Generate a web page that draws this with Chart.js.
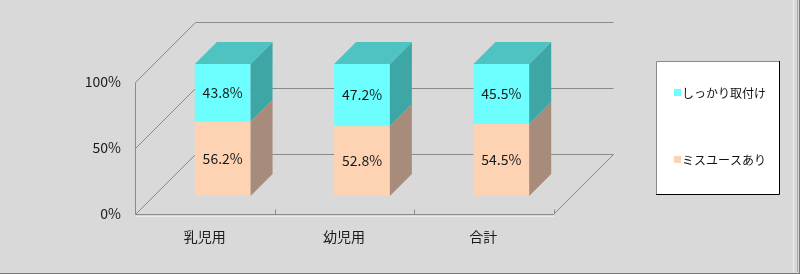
<!DOCTYPE html>
<html>
<head>
<meta charset="utf-8">
<script src="https://cdn.jsdelivr.net/npm/chart.js@4/dist/chart.umd.min.js"></script>
<style>
    html, body { margin: 0; padding: 0; background: #d9d9d9; }
    canvas { display: block; }
</style>
</head>
<body>
<canvas id="chart" width="800" height="274"></canvas>
<script>
(function () {
    'use strict';

    // ---- data ----
    var categories = ['乳児用', '幼児用', '合計'];
    var seriesNames = ['ミスユースあり', 'しっかり取付け'];
    var misuseValues = [56.2, 52.8, 54.5];
    var secureValues = [43.8, 47.2, 45.5];
    var yTickValues = [0, 50, 100];

    // ---- styles ----
    var FRONT = ['#fdd3b3', '#6dffff'];
    var SIDE = ['#a88c7b', '#3fa6a6'];
    var TOP = ['#d8b49a', '#4fc2c2'];
    var WALL_DEPTH = 60;
    var BAR_SHIFT = 18;
    var BAR_DEPTH = 22;
    var FONT = '"Noto Sans CJK JP", "Noto Sans", sans-serif';

    Chart.defaults.font.family = FONT;

    function line(ctx, x1, y1, x2, y2) {
        ctx.beginPath();
        ctx.moveTo(x1, y1);
        ctx.lineTo(x2, y2);
        ctx.stroke();
    }

    // walls, floor and 3D faces of the bars
    var box3d = {
        id: 'box3d',
        beforeDatasetsDraw: function (chart) {
            var ctx = chart.ctx;
            var ys = chart.scales.y;
            var L = Math.round(chart.chartArea.left) + 0.5;
            var R = Math.round(chart.chartArea.right) + 0.5;
            var D = WALL_DEPTH;
            var y0 = Math.round(ys.getPixelForValue(0)) + 0.5;
            var yTop = Math.round(ys.getPixelForValue(100)) + 0.5;

            ctx.save();
            ctx.lineWidth = 1;
            // floor thickness highlight
            ctx.strokeStyle = '#ececec';
            line(ctx, L, y0 + 2, R, y0 + 2);
            ctx.strokeStyle = '#8a8a8a';
            yTickValues.forEach(function (v) {
                var py = Math.round(ys.getPixelForValue(v)) + 0.5;
                line(ctx, L, py, L + D, py - D);
                line(ctx, L + D, py - D, R + D, py - D);
            });
            line(ctx, L, y0, L, yTop);
            line(ctx, L, y0, R, y0);
            line(ctx, R, y0, R + D, y0 - D);
            // small category boundary ticks
            for (var i = 1; i <= categories.length; i++) {
                var bx = Math.round(L + (R - L) * i / categories.length) + 0.5;
                line(ctx, bx, y0, bx, y0 - 5);
            }
            ctx.restore();

            ctx.save();
            ctx.translate(BAR_SHIFT, -BAR_SHIFT);
        },
        afterDatasetsDraw: function (chart) {
            var ctx = chart.ctx;
            var d = BAR_DEPTH;
            var last = chart.data.datasets.length - 1;

            chart.data.datasets.forEach(function (ds, di) {
                var meta = chart.getDatasetMeta(di);
                meta.data.forEach(function (el, i) {
                    var left = el.x - el.width / 2;
                    var right = el.x + el.width / 2;
                    var top = Math.min(el.y, el.base);
                    var bottom = Math.max(el.y, el.base);

                    ctx.fillStyle = SIDE[di];
                    ctx.beginPath();
                    ctx.moveTo(right, top);
                    ctx.lineTo(right + d, top - d);
                    ctx.lineTo(right + d, bottom - d);
                    ctx.lineTo(right, bottom);
                    ctx.closePath();
                    ctx.fill();

                    if (di === last) {
                        ctx.fillStyle = TOP[di];
                        ctx.beginPath();
                        ctx.moveTo(left, top);
                        ctx.lineTo(left + d, top - d);
                        ctx.lineTo(right + d, top - d);
                        ctx.lineTo(right, top);
                        ctx.closePath();
                        ctx.fill();
                    }

                    ctx.fillStyle = '#1a1a1a';
                    ctx.font = '14px ' + FONT;
                    ctx.textAlign = 'center';
                    ctx.textBaseline = 'middle';
                    ctx.fillText(ds.data[i].toFixed(1) + '%', el.x, (top + bottom) / 2);
                });
            });
            ctx.restore();
        },
        afterDraw: function (chart) {
            var ctx = chart.ctx;
            ctx.save();
            // legend box
            ctx.fillStyle = '#ffffff';
            ctx.fillRect(656, 61, 123, 133);
            ctx.lineWidth = 1;
            ctx.strokeStyle = '#8a8a8a';
            line(ctx, 656.5, 194, 656.5, 61.5);
            line(ctx, 656.5, 61.5, 779, 61.5);
            ctx.strokeStyle = '#000000';
            line(ctx, 779.5, 61, 779.5, 194.5);
            line(ctx, 779.5, 194.5, 656, 194.5);

            var rows = [{ di: 1, y: 93 }, { di: 0, y: 160 }];
            ctx.font = '12px ' + FONT;
            ctx.textAlign = 'left';
            ctx.textBaseline = 'middle';
            rows.forEach(function (r) {
                ctx.fillStyle = FRONT[r.di];
                ctx.fillRect(674, r.y - 4, 7, 7);
                ctx.fillStyle = '#111111';
                ctx.fillText(chart.data.datasets[r.di].label, 682, r.y);
            });

            // outer frame edges
            ctx.strokeStyle = '#ececec';
            line(ctx, 793.5, 0, 793.5, 272);
            ctx.strokeStyle = '#a6a6a6';
            line(ctx, 797.5, 0, 797.5, 272);
            ctx.strokeStyle = '#7a7a7a';
            line(ctx, 0, 273.5, 800, 273.5);
            line(ctx, 799.5, 0, 799.5, 274);
            ctx.restore();
        }
    };

    new Chart(document.getElementById('chart'), {
        type: 'bar',
        data: {
            labels: categories,
            datasets: [
                { label: seriesNames[0], data: misuseValues, backgroundColor: FRONT[0], borderWidth: 0, clip: false },
                { label: seriesNames[1], data: secureValues, backgroundColor: FRONT[1], borderWidth: 0, clip: false }
            ]
        },
        options: {
            responsive: false,
            animation: false,
            events: [],
            layout: { padding: { left: 0, right: 247, top: 82, bottom: 0 } },
            datasets: { bar: { categoryPercentage: 1, barPercentage: 0.4 } },
            scales: {
                x: {
                    stacked: true,
                    grid: { display: false, drawTicks: false },
                    border: { display: false },
                    ticks: { color: '#1a1a1a', font: { size: 14 }, padding: 14 },
                    afterFit: function (s) { s.height = 60; }
                },
                y: {
                    stacked: true,
                    min: 0,
                    max: 100,
                    grid: { display: false, drawTicks: false },
                    border: { display: false },
                    ticks: {
                        stepSize: 50,
                        color: '#1a1a1a',
                        font: { size: 14 },
                        padding: 14,
                        callback: function (v) { return v + '%'; }
                    },
                    afterFit: function (s) { s.width = 135; }
                }
            },
            plugins: {
                legend: { display: false },
                tooltip: { enabled: false }
            }
        },
        plugins: [box3d]
    });
})();
</script>
</body>
</html>
